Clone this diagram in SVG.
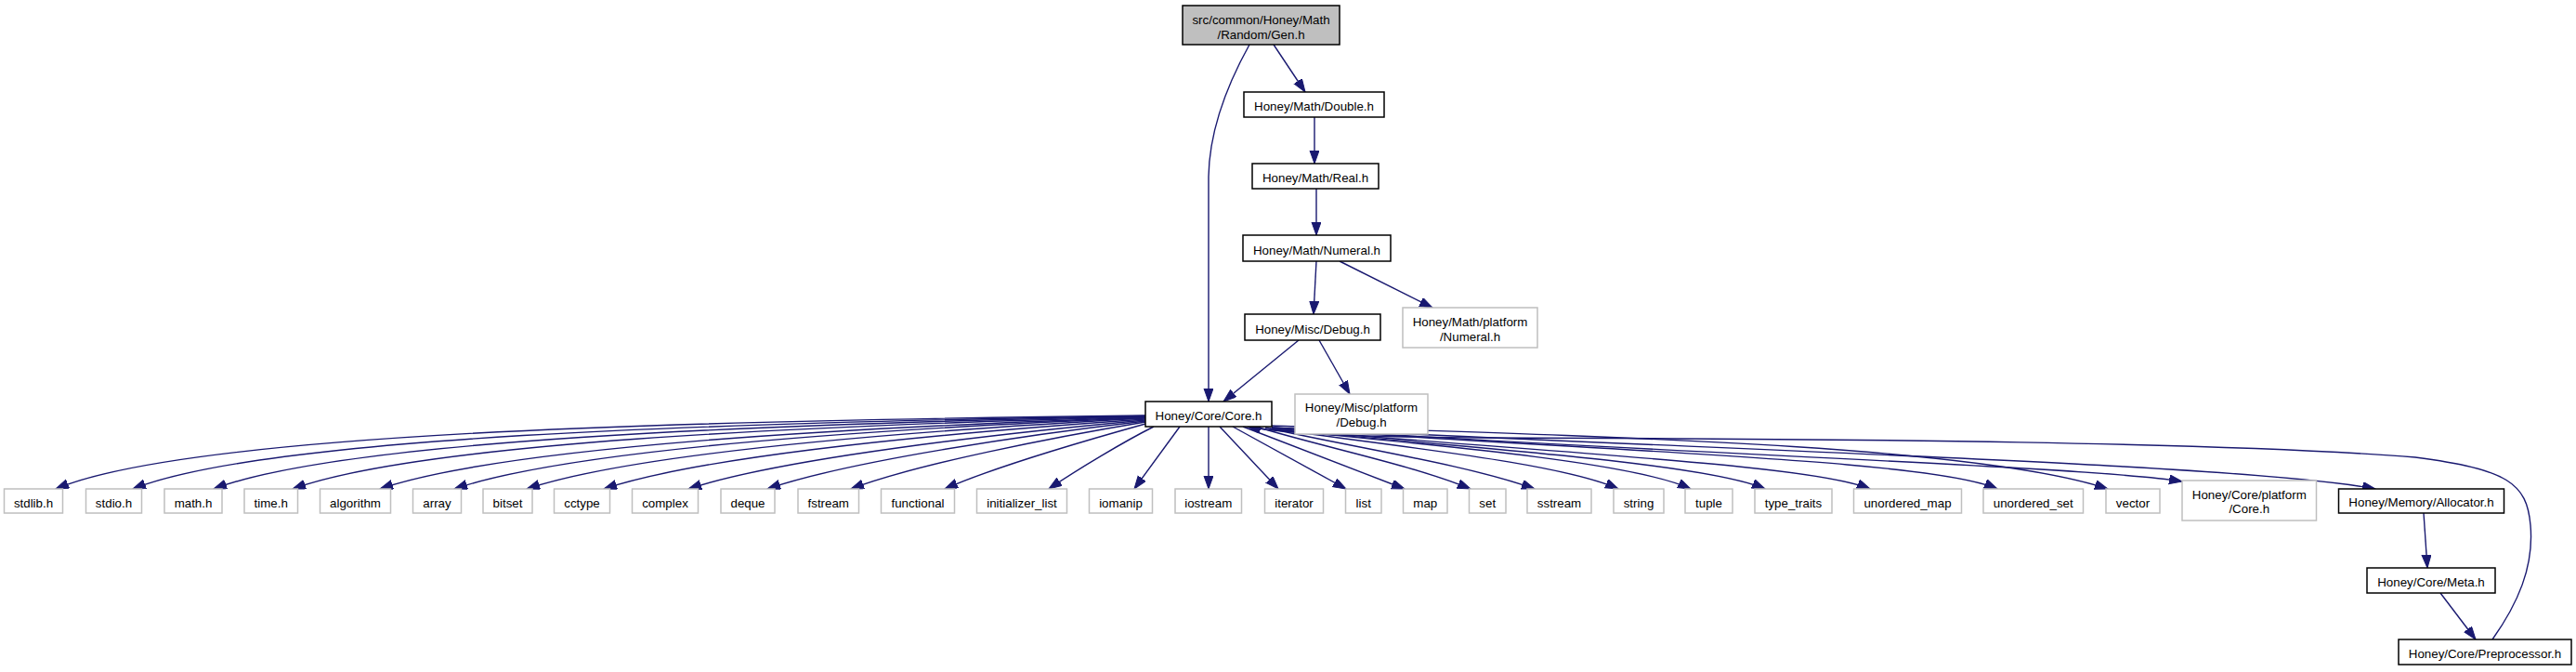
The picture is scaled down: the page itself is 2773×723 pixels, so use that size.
<svg xmlns="http://www.w3.org/2000/svg" width="2773" height="723" viewBox="0 0 2773 723">
<style>
.n{fill:#ffffff;stroke:#000000;stroke-width:1.5}
.x{fill:#ffffff;stroke:#bfbfbf;stroke-width:1.5}
.r{fill:#bfbfbf;stroke:#000000;stroke-width:1.5}
text{font-family:"Liberation Sans",Arial,Helvetica,sans-serif;font-size:13.33px;fill:#000000;text-anchor:middle}
.e{fill:none;stroke:#191970;stroke-width:1.4}
</style>
<defs>
<marker id="arr" markerUnits="userSpaceOnUse" markerWidth="15" markerHeight="11" refX="14" refY="5" orient="auto">
<path d="M0,0 L14,5 L0,10 z" fill="#191970" stroke="#191970" stroke-width="1"/>
</marker>
</defs>
<rect width="2773" height="723" fill="#ffffff"/>
<g id="edges">
<path class="e" marker-end="url(#arr)" d="M1371,48 L1405,99"/>
<path class="e" marker-end="url(#arr)" d="M1345,48 C1330,75 1302,130 1301,190 L1301,432"/>
<path class="e" marker-end="url(#arr)" d="M1415,126 L1415,176"/>
<path class="e" marker-end="url(#arr)" d="M1417,203 L1417,253"/>
<path class="e" marker-end="url(#arr)" d="M1417,281 L1414,338"/>
<path class="e" marker-end="url(#arr)" d="M1442,281 L1542,331"/>
<path class="e" marker-end="url(#arr)" d="M1398,366 L1317,432"/>
<path class="e" marker-end="url(#arr)" d="M1420,366 L1453,424"/>
<path class="e" marker-end="url(#arr)" d="M2609,552 L2613,611"/>
<path class="e" marker-end="url(#arr)" d="M2627,638 L2665,688"/>
<path class="e" marker-end="url(#arr)" d="M2683,688 C2710,650 2728,610 2724,565 C2720,520 2700,505 2600,492 C2400,476 2000,472 1600,471 C1480,470 1390,468 1343,459"/>
<path class="e" marker-end="url(#arr)" d="M1233,447 C705,453 201,467 60,526"/>
<path class="e" marker-end="url(#arr)" d="M1233,447.5 C758,455 285,470 143,526"/>
<path class="e" marker-end="url(#arr)" d="M1233,448 C811,456.5 370,473.4 230,526"/>
<path class="e" marker-end="url(#arr)" d="M1233,448.5 C859,458 453,476.6 315,526"/>
<path class="e" marker-end="url(#arr)" d="M1233,449 C913,460 545,480 409,526"/>
<path class="e" marker-end="url(#arr)" d="M1233,449.5 C953,461 617,483 489,526"/>
<path class="e" marker-end="url(#arr)" d="M1233,450 C992,463 688,486 567,526"/>
<path class="e" marker-end="url(#arr)" d="M1233,451 C1030,465 762,489 650,526"/>
<path class="e" marker-end="url(#arr)" d="M1233,452 C1070,467 842,493 741,526"/>
<path class="e" marker-end="url(#arr)" d="M1233,453 C1104,468 914,496 826,526"/>
<path class="e" marker-end="url(#arr)" d="M1233,454 C1137,470 987,499 916,526"/>
<path class="e" marker-end="url(#arr)" d="M1233,456 C1172,473 1069,503 1017,526"/>
<path class="e" marker-end="url(#arr)" d="M1242,459 C1210,475 1160,505 1129,526"/>
<path class="e" marker-end="url(#arr)" d="M1270,459 L1221,526"/>
<path class="e" marker-end="url(#arr)" d="M1301,459 L1301,526"/>
<path class="e" marker-end="url(#arr)" d="M1313,459 L1376,526"/>
<path class="e" marker-end="url(#arr)" d="M1327,459 L1449,526"/>
<path class="e" marker-end="url(#arr)" d="M1338,459 L1512,526"/>
<path class="e" marker-end="url(#arr)" d="M1352,459 C1420,480 1520,500 1583,526"/>
<path class="e" marker-end="url(#arr)" d="M1362,460 C1460,482 1580,500 1652,526"/>
<path class="e" marker-end="url(#arr)" d="M1367,461 C1500,480 1680,498 1742,526"/>
<path class="e" marker-end="url(#arr)" d="M1369,462 C1560,480 1760,498 1820,526"/>
<path class="e" marker-end="url(#arr)" d="M1369,462 C1620,484 1840,500 1900,526"/>
<path class="e" marker-end="url(#arr)" d="M1369,461 C1680,488 1950,500 2013,526"/>
<path class="e" marker-end="url(#arr)" d="M1369,460 C1750,487 2080,495 2150,526"/>
<path class="e" marker-end="url(#arr)" d="M1369,458 C1750,470 2130,480 2269,526"/>
<path class="e" marker-end="url(#arr)" d="M1369,460 C1800,488 2250,502 2349,518"/>
<path class="e" marker-end="url(#arr)" d="M1369,460 C1900,486 2420,500 2557,526"/>
</g>
<g id="node-gen"><rect class="r" x="1273" y="6" width="169" height="42"/><text x="1357.5" y="26.4">src/common/Honey/Math</text><text x="1357.5" y="42.4">/Random/Gen.h</text></g>
<g id="node-double"><rect class="n" x="1339" y="99" width="151" height="27"/><text x="1414.5" y="119.3">Honey/Math/Double.h</text></g>
<g id="node-real"><rect class="n" x="1348" y="176" width="136" height="27"/><text x="1416" y="196.3">Honey/Math/Real.h</text></g>
<g id="node-numeral"><rect class="n" x="1338" y="253" width="159" height="28"/><text x="1417.5" y="273.7">Honey/Math/Numeral.h</text></g>
<g id="node-debug"><rect class="n" x="1340" y="338" width="146" height="28"/><text x="1413" y="358.7">Honey/Misc/Debug.h</text></g>
<g id="node-platnumeral"><rect class="x" x="1510" y="331" width="145" height="43"/><text x="1582.5" y="351.4">Honey/Math/platform</text><text x="1582.5" y="367.4">/Numeral.h</text></g>
<g id="node-platdebug"><rect class="x" x="1394" y="424" width="143" height="43"/><text x="1465.5" y="443.3">Honey/Misc/platform</text><text x="1465.5" y="459.3">/Debug.h</text></g>
<g id="node-core"><rect class="n" x="1233" y="432" width="136" height="27"/><text x="1301" y="452">Honey/Core/Core.h</text></g>
<g id="node-stdlib"><rect class="x" x="4.5" y="526" width="63" height="26"/><text x="36" y="545.8">stdlib.h</text></g>
<g id="node-stdio"><rect class="x" x="92.5" y="526" width="60" height="26"/><text x="122.5" y="545.8">stdio.h</text></g>
<g id="node-math"><rect class="x" x="177" y="526" width="62" height="26"/><text x="208" y="545.8">math.h</text></g>
<g id="node-time"><rect class="x" x="263" y="526" width="57.5" height="26"/><text x="291.75" y="545.8">time.h</text></g>
<g id="node-algorithm"><rect class="x" x="344.5" y="526" width="76" height="26"/><text x="382.5" y="545.8">algorithm</text></g>
<g id="node-array"><rect class="x" x="444.5" y="526" width="52" height="26"/><text x="470.5" y="545.8">array</text></g>
<g id="node-bitset"><rect class="x" x="520" y="526" width="53" height="26"/><text x="546.5" y="545.8">bitset</text></g>
<g id="node-cctype"><rect class="x" x="596.5" y="526" width="60" height="26"/><text x="626.5" y="545.8">cctype</text></g>
<g id="node-complex"><rect class="x" x="680.5" y="526" width="71" height="26"/><text x="716" y="545.8">complex</text></g>
<g id="node-deque"><rect class="x" x="776" y="526" width="58" height="26"/><text x="805" y="545.8">deque</text></g>
<g id="node-fstream"><rect class="x" x="859" y="526" width="65.5" height="26"/><text x="891.75" y="545.8">fstream</text></g>
<g id="node-functional"><rect class="x" x="948.5" y="526" width="79" height="26"/><text x="988" y="545.8">functional</text></g>
<g id="node-initializer_list"><rect class="x" x="1051.5" y="526" width="97" height="26"/><text x="1100" y="545.8">initializer_list</text></g>
<g id="node-iomanip"><rect class="x" x="1172.5" y="526" width="68" height="26"/><text x="1206.5" y="545.8">iomanip</text></g>
<g id="node-iostream"><rect class="x" x="1265" y="526" width="71.5" height="26"/><text x="1300.75" y="545.8">iostream</text></g>
<g id="node-iterator"><rect class="x" x="1361.5" y="526" width="63" height="26"/><text x="1393" y="545.8">iterator</text></g>
<g id="node-list"><rect class="x" x="1448.5" y="526" width="38.5" height="26"/><text x="1467.75" y="545.8">list</text></g>
<g id="node-map"><rect class="x" x="1510.5" y="526" width="47.5" height="26"/><text x="1534.25" y="545.8">map</text></g>
<g id="node-set"><rect class="x" x="1581.5" y="526" width="39.5" height="26"/><text x="1601.25" y="545.8">set</text></g>
<g id="node-sstream"><rect class="x" x="1644" y="526" width="69" height="26"/><text x="1678.5" y="545.8">sstream</text></g>
<g id="node-string"><rect class="x" x="1737" y="526" width="54" height="26"/><text x="1764" y="545.8">string</text></g>
<g id="node-tuple"><rect class="x" x="1814" y="526" width="51" height="26"/><text x="1839.5" y="545.8">tuple</text></g>
<g id="node-type_traits"><rect class="x" x="1889" y="526" width="83" height="26"/><text x="1930.5" y="545.8">type_traits</text></g>
<g id="node-unordered_map"><rect class="x" x="1995.5" y="526" width="116" height="26"/><text x="2053.5" y="545.8">unordered_map</text></g>
<g id="node-unordered_set"><rect class="x" x="2135" y="526" width="107.5" height="26"/><text x="2188.75" y="545.8">unordered_set</text></g>
<g id="node-vector"><rect class="x" x="2267" y="526" width="58" height="26"/><text x="2296" y="545.8">vector</text></g>
<g id="node-platcore"><rect class="x" x="2349" y="517" width="144.5" height="43"/><text x="2421.25" y="536.5">Honey/Core/platform</text><text x="2421.25" y="552.3">/Core.h</text></g>
<g id="node-allocator"><rect class="n" x="2517.5" y="526" width="178" height="26"/><text x="2606.5" y="545.3">Honey/Memory/Allocator.h</text></g>
<g id="node-meta"><rect class="n" x="2548" y="611" width="138" height="27"/><text x="2617" y="631">Honey/Core/Meta.h</text></g>
<g id="node-preprocessor"><rect class="n" x="2582" y="688" width="186" height="27"/><text x="2675" y="708">Honey/Core/Preprocessor.h</text></g>
</svg>
